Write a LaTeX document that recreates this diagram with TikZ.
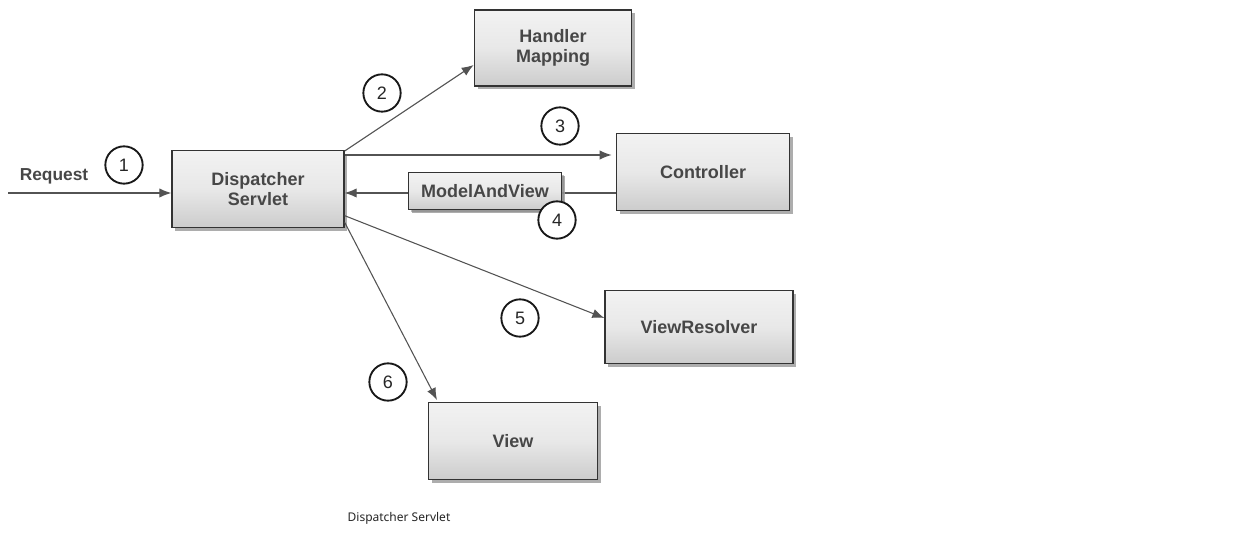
\documentclass[tikz,border=0pt]{standalone}
\usepackage{fontspec}
\setmainfont{Liberation Sans}
\newfontfamily\capfont{Noto Sans}
\usetikzlibrary{arrows.meta,shadows}
\begin{document}
\begin{tikzpicture}[x=0.75pt,y=-0.75pt,
  box/.style={draw=gray!40!black, line width=1pt, top color=gray!10, bottom color=gray!40,
    middle color=gray!18, align=center, font=\bfseries\fontsize{13.5}{15}\selectfont,
    text=black!72, inner sep=0pt,
    drop shadow={shadow xshift=2.5pt, shadow yshift=-2.5pt, fill=gray!75, opacity=0.85}},
  num/.style={circle, draw=black!90, line width=1.4pt, fill=white, minimum size=28pt, inner sep=0pt,
    font=\fontsize{13.5}{15}\selectfont, text=black!85},
  conn/.style={draw=gray!65!black, line width=0.8pt, -{Latex[length=9pt,width=7pt]}}
]
\useasboundingbox (0,0) rectangle (1252,534);
\node[box, minimum width=129pt, minimum height=58pt] (ds) at (258,189) {Dispatcher\\Servlet};
\node[box, minimum width=118pt, minimum height=57pt] (hm) at (553,48) {Handler\\Mapping};
\node[box, minimum width=130pt, minimum height=58pt] (ct) at (703,172) {Controller};
\node[box, minimum width=141pt, minimum height=55pt] (vr) at (699,327) {ViewResolver};
\node[box, minimum width=127pt, minimum height=58pt] (vw) at (513,441) {View};
\coordinate (rq) at (8,193);
\node[font=\bfseries\fontsize{13}{15}\selectfont, text=black!72] (rqt) at (54,176) {Request};
\draw[conn] (rq) -- (ds.west |- rq);
\draw[conn] ([yshift=-1pt]ds.north east) -- (hm.west |- 0,65);
\draw[conn] (ds.east |- 0,155) -- ([xshift=-3pt]ct.west |- 0,155);
\draw[conn] (ct.west |- 0,193) -- (ds.east |- 0,193);
\node[box, minimum width=115pt, minimum height=28pt, drop shadow={shadow xshift=2pt, shadow yshift=-2pt}] (mv) at (485,191) {ModelAndView};
\draw[conn] ([yshift=-20pt]ds.east) -- (vr.west |- 0,318);
\draw[conn] ([yshift=-25pt]ds.east) -- (437,400);
\node[num] (n1) at (124,165) {1};
\node[num] (n2) at (382,93) {2};
\node[num] (n3) at (560,126) {3};
\node[num] (n4) at (557,220) {4};
\node[num] (n5) at (520,318) {5};
\node[num] (n6) at (388,382) {6};
\node[font=\capfont\fontsize{9}{11}\selectfont, text=black!85] (cap) at (399,518) {Dispatcher Servlet};
\end{tikzpicture}
\end{document}
